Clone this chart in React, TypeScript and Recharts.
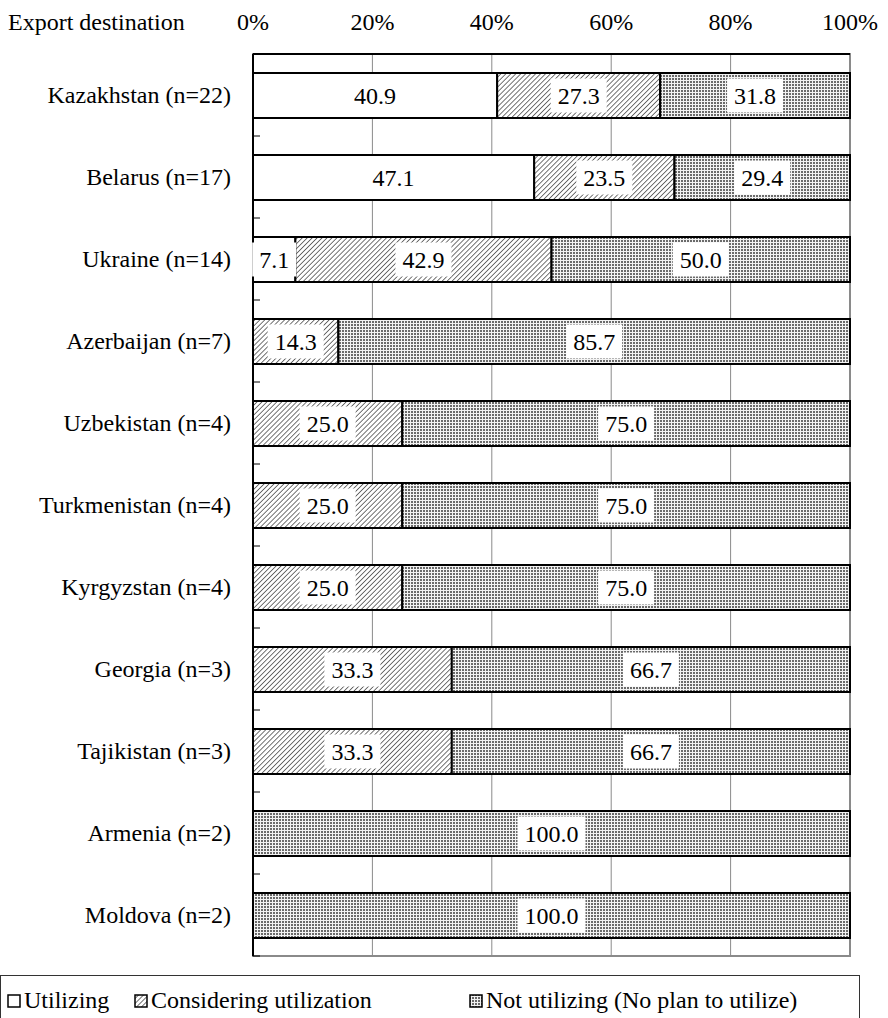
import React from 'react';
import { BarChart, Bar, XAxis, YAxis, CartesianGrid, ReferenceArea, LabelList } from 'recharts';

const destinations = [
  'Kazakhstan (n=22)',
  'Belarus (n=17)',
  'Ukraine (n=14)',
  'Azerbaijan (n=7)',
  'Uzbekistan (n=4)',
  'Turkmenistan (n=4)',
  'Kyrgyzstan (n=4)',
  'Georgia (n=3)',
  'Tajikistan (n=3)',
  'Armenia (n=2)',
  'Moldova (n=2)',
];
const utilizing = [40.9, 47.1, 7.1, 0, 0, 0, 0, 0, 0, 0, 0];
const considering = [27.3, 23.5, 42.9, 14.3, 25.0, 25.0, 25.0, 33.3, 33.3, 0, 0];
const notUtilizing = [31.8, 29.4, 50.0, 85.7, 75.0, 75.0, 75.0, 66.7, 66.7, 100.0, 100.0];
const xTicks = [0, 20, 40, 60, 80, 100];

const data = destinations.map((name, i) => ({
  name,
  utilizing: utilizing[i],
  considering: considering[i],
  notUtilizing: notUtilizing[i],
}));

const FONT = 'Liberation Serif, Tinos, Times New Roman, DejaVu Serif, Noto Serif, serif';
const FS = 24;
const PLOT_LEFT = 253;
const BAND = 82;

function ValueLabel(props: any) {
  const { x, y, width, height, value } = props;
  if (!value) return null;
  const txt = Number(value).toFixed(1);
  const w = txt.length * 12 + 8;
  const cx = x + width / 2;
  const cy = y + height / 2;
  return (
    <g>
      <rect x={cx - w / 2} y={cy - 17} width={w} height={34} fill="#fff" />
      <text x={cx} y={cy} textAnchor="middle" dominantBaseline="central" fontFamily={FONT} fontSize={FS} fill="#000">
        {txt}
      </text>
    </g>
  );
}

function YTick(props: any) {
  const { y, payload } = props;
  return (
    <g>
      <text x={231} y={y} textAnchor="end" dominantBaseline="central" fontFamily={FONT} fontSize={FS} fill="#000">
        {payload.value}
      </text>
      <line x1={PLOT_LEFT} x2={PLOT_LEFT + 7} y1={y + BAND / 2} y2={y + BAND / 2} stroke="#000" strokeWidth={1} />
    </g>
  );
}

function XTick(props: any) {
  const { x, payload } = props;
  return (
    <text x={x} y={22} textAnchor="middle" dominantBaseline="central" fontFamily={FONT} fontSize={FS} fill="#000">
      {payload.value + '%'}
    </text>
  );
}

function Patterns({ prefix }: { prefix: string }) {
  return (
    <defs>
      <pattern id={prefix + 'hatch'} width={3.5} height={3.5} patternUnits="userSpaceOnUse" patternTransform="rotate(45)">
        <rect width={3.5} height={3.5} fill="#fff" />
        <line x1={0} y1={0} x2={0} y2={3.5} stroke="#000" strokeWidth={1.1} />
      </pattern>
      <pattern id={prefix + 'dots'} width={3} height={3} patternUnits="userSpaceOnUse">
        <rect width={3} height={3} fill="#f2f2f2" />
        <rect width={2} height={2} fill="#6a6a6a" />
      </pattern>
    </defs>
  );
}

function LegendItem({ fill, prefix, label, left }: { fill: string; prefix: string; label: string; left: number }) {
  return (
    <div style={{ position: 'absolute', left, top: 11, display: 'flex', alignItems: 'center', whiteSpace: 'nowrap' }}>
      <svg width={14} height={14} style={{ marginRight: 3 }}>
        <Patterns prefix={prefix} />
        <rect x={1} y={1} width={12} height={12} fill={fill} stroke="#000" strokeWidth={1.5} />
      </svg>
      {label}
    </div>
  );
}

export default function App() {
  return (
    <div style={{ position: 'relative', width: 888, height: 1018, background: '#fff' }}>
      <style>{'body{margin:0}'}</style>
      <div
        style={{
          position: 'absolute',
          left: 8,
          top: 8,
          fontFamily: FONT,
          fontSize: FS,
          lineHeight: '28px',
        }}
      >
        Export destination
      </div>
      <BarChart
        width={888}
        height={960}
        data={data}
        layout="vertical"
        margin={{ top: 9, right: 38, bottom: 4, left: 0 }}
        barSize={45}
      >
        <Patterns prefix="c-" />
        <CartesianGrid horizontal={false} vertical stroke="#8a8a8a" strokeWidth={1} />
        <ReferenceArea x1={0} x2={100} fill="none" stroke="#8a8a8a" strokeWidth={2} ifOverflow="visible" />
        <XAxis
          type="number"
          orientation="top"
          domain={[0, 100]}
          ticks={xTicks}
          height={45}
          tickLine={false}
          axisLine={{ stroke: '#000', strokeWidth: 2 }}
          tick={<XTick />}
        />
        <YAxis
          type="category"
          dataKey="name"
          width={PLOT_LEFT}
          tickLine={false}
          axisLine={{ stroke: '#000', strokeWidth: 2 }}
          tick={<YTick />}
          interval={0}
        />
        <Bar dataKey="utilizing" stackId="a" fill="#fff" stroke="#000" strokeWidth={2} isAnimationActive={false}>
          <LabelList dataKey="utilizing" content={<ValueLabel />} />
        </Bar>
        <Bar dataKey="considering" stackId="a" fill="url(#c-hatch)" stroke="#000" strokeWidth={2} isAnimationActive={false}>
          <LabelList dataKey="considering" content={<ValueLabel />} />
        </Bar>
        <Bar dataKey="notUtilizing" stackId="a" fill="url(#c-dots)" stroke="#000" strokeWidth={2} isAnimationActive={false}>
          <LabelList dataKey="notUtilizing" content={<ValueLabel />} />
        </Bar>
      </BarChart>
      <div
        style={{
          position: 'absolute',
          left: 0,
          top: 975,
          width: 860,
          height: 60,
          border: '1.5px solid #333',
          boxSizing: 'border-box',
          fontFamily: FONT,
          fontSize: FS,
        }}
      >
        <LegendItem fill="#fff" prefix="l1-" label="Utilizing" left={6} />
        <LegendItem fill="url(#l2-hatch)" prefix="l2-" label="Considering utilization" left={133} />
        <LegendItem fill="url(#l3-dots)" prefix="l3-" label="Not utilizing (No plan to utilize)" left={468} />
      </div>
    </div>
  );
}
